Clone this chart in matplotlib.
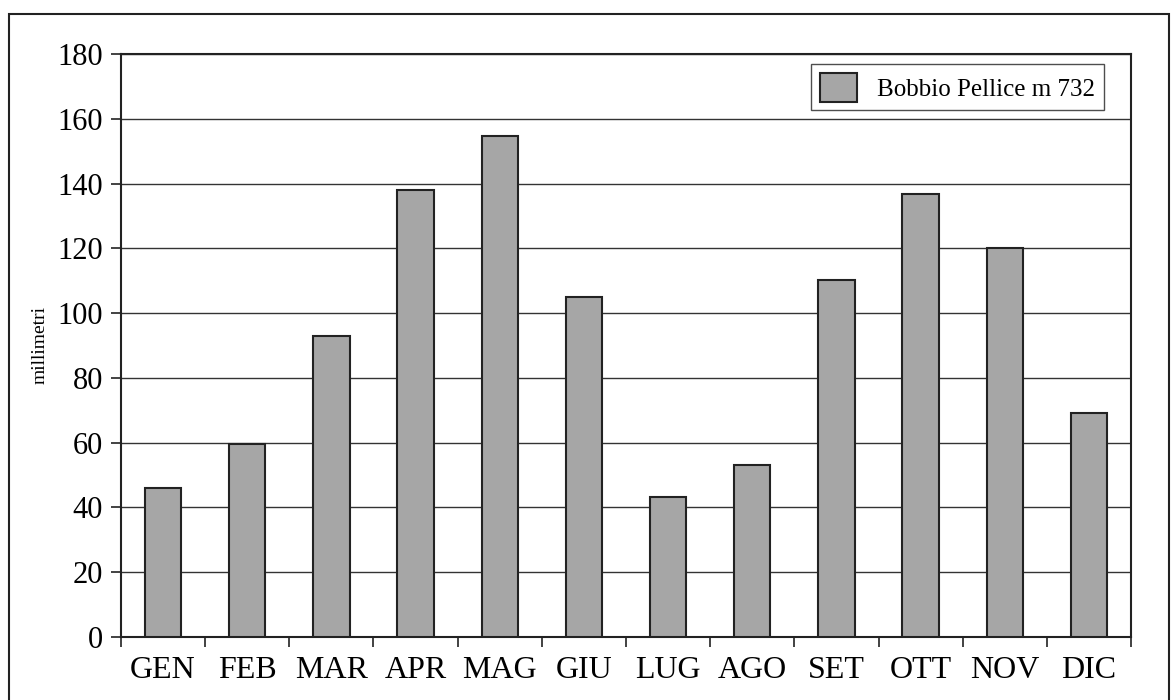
import matplotlib
matplotlib.use("Agg")
import matplotlib.pyplot as plt
from matplotlib.patches import Rectangle
import numpy as np

months = ["GEN", "FEB", "MAR", "APR", "MAG", "GIU", "LUG", "AGO", "SET", "OTT", "NOV", "DIC"]
values = [46, 59.6, 93, 138, 154.6, 105, 43.2, 53, 110.2, 136.7, 120, 69.2]
series_name = "Bobbio Pellice m 732"
yticks = [0, 20, 40, 60, 80, 100, 120, 140, 160, 180]

plt.rcParams['font.family'] = ['Liberation Serif', 'DejaVu Serif']

fig = plt.figure(figsize=(11.71, 7.0), dpi=100)
# figure border
fig.patches.append(Rectangle((9/1171, -0.01), (1169-9)/1171, (700-14)/700 + 0.01,
                             transform=fig.transFigure, fill=False, edgecolor='#222222',
                             linewidth=1.5))

ax = fig.add_axes([121/1171, 1 - 637/700, (1131-121)/1171, (637-54)/700])
x = np.arange(len(months))
ax.bar(x, values, width=0.43, color='#a6a6a6', edgecolor='#222222', linewidth=1.5,
       label=series_name, zorder=3)

ax.set_xlim(-0.5, len(months) - 0.5)
ax.set_ylim(0, 180)
ax.set_yticks(yticks)
ax.set_yticklabels([str(v) for v in yticks], fontsize=22)
ax.yaxis.grid(True, color='#333333', linewidth=1.0, zorder=0)
ax.set_axisbelow(True)

ax.set_xticks(x)
ax.set_xticklabels(months, fontsize=23)
ax.tick_params(axis='x', length=0, pad=14)
ax.set_xticks(np.arange(-0.5, len(months), 1.0), minor=True)
ax.tick_params(axis='x', which='minor', length=7, width=1.2, color='#222222', direction='out')
ax.tick_params(axis='y', length=7, width=1.2, color='#222222', direction='out', pad=6)

for s in ax.spines.values():
    s.set_color('#222222')
    s.set_linewidth(1.5)

ax.set_ylabel("millimetri", fontsize=14, labelpad=6)

leg = ax.legend(loc='upper right', bbox_to_anchor=(1104/1171, 1 - 64/700),
                bbox_transform=fig.transFigure, fontsize=18, frameon=True, fancybox=False,
                borderpad=0.35, handlelength=1.5, handleheight=1.4, handletextpad=0.8,
                borderaxespad=0)
leg.get_frame().set_edgecolor('#222222')
leg.get_frame().set_linewidth(1.0)

fig.savefig("out.png", dpi=100)
